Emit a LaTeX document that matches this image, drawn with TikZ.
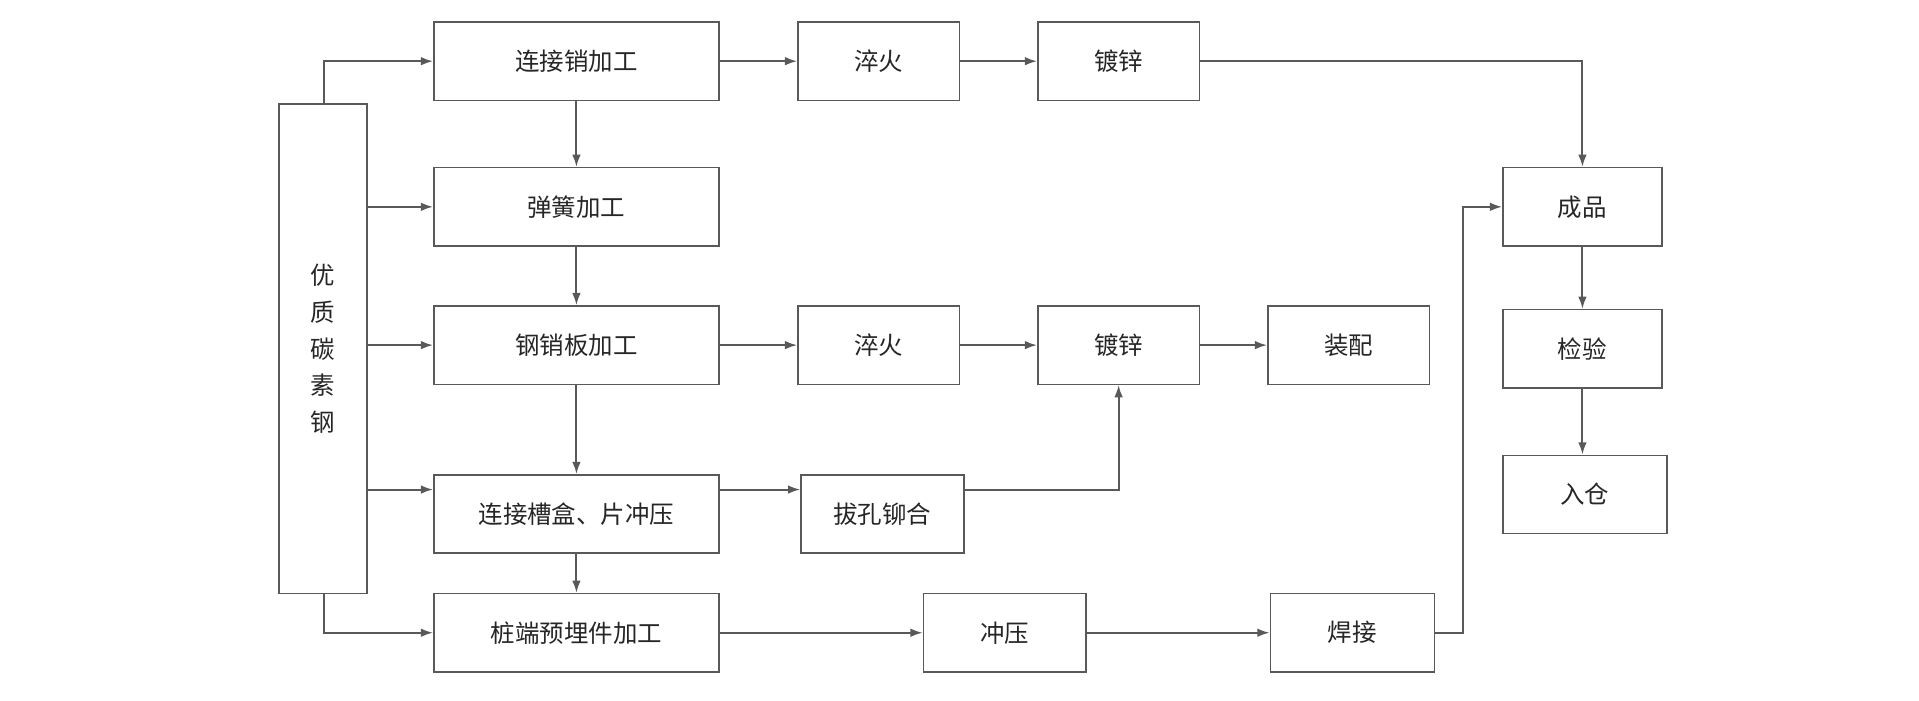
\documentclass[tikz,border=0pt]{standalone}
\usepackage{fontspec}
\setmainfont{Noto Sans CJK SC}
\usetikzlibrary{arrows.meta}
\begin{document}
\begin{tikzpicture}[x=1pt,y=-1pt,
  box/.style={draw=black!65,line width=1.2pt,minimum width=#1,minimum height=64pt,inner sep=0pt,font=\fontsize{20}{24}\selectfont,text=black!85},
  box/.default=233pt,
  ar/.style={draw=black!65,line width=1.6pt,-{Latex[length=10pt,width=7pt]}}]
\useasboundingbox (0,0) rectangle (1568,572);
\node[box=72pt,minimum height=400pt,align=center,font=\fontsize{20}{30}\selectfont] (raw) at (264,285) {优\\质\\碳\\素\\钢};
\node[box] (ljx) at (471,50) {连接销加工};
\node[box=132pt] (cq1) at (718,50) {淬火};
\node[box=132pt] (dx1) at (914,50) {镀锌};
\node[box] (th) at (471,169) {弹簧加工};
\node[box] (gxb) at (471,282) {钢销板加工};
\node[box=132pt] (cq2) at (718,282) {淬火};
\node[box=132pt] (dx2) at (914,282) {镀锌};
\node[box=132pt] (zp) at (1102,282) {装配};
\node[box] (ljc) at (471,420) {连接槽盒、片冲压};
\node[box=133pt] (bk) at (721,420) {拔孔铆合};
\node[box] (zd) at (471,517) {桩端预埋件加工};
\node[box=133pt] (cy) at (821,517) {冲压};
\node[box=134pt] (hj) at (1105,517) {焊接};
\node[box=130pt] (cp) at (1293,169) {成品};
\node[box=130pt] (jy) at (1293,285) {检验};
\node[box=134pt] (rc) at (1295,404) {入仓};
\coordinate (rt) at (265,85);
\coordinate (rb) at (265,485);
\draw[ar] (rt) |- (ljx.west);
\draw[ar] (rb) |- (zd.west);
\draw[ar] (raw.east|-th) -- (th.west);
\draw[ar] (raw.east|-gxb) -- (gxb.west);
\draw[ar] (raw.east|-0,400) -- (ljc.west|-0,400);
\draw[ar] (ljx) -- (th);
\draw[ar] (th) -- (gxb);
\draw[ar] (gxb) -- (ljc);
\draw[ar] (ljc) -- (zd);
\draw[ar] (ljx) -- (cq1);
\draw[ar] (cq1) -- (dx1);
\draw[ar] (dx1.east) -| (cp.north);
\draw[ar] (gxb) -- (cq2);
\draw[ar] (cq2) -- (dx2);
\draw[ar] (dx2) -- (zp);
\draw[ar] (ljc.east|-0,400) -- (bk.west|-0,400);
\draw[ar] (bk.east|-0,400) -| (dx2.south);
\draw[ar] (zd) -- (cy);
\draw[ar] (cy) -- (hj);
\draw[ar] (hj.east) -- (1195,517) |- (cp.west);
\draw[ar] (cp) -- (jy);
\draw[ar] (jy.south) -- (jy.south|-rc.north);
\end{tikzpicture}
\end{document}
